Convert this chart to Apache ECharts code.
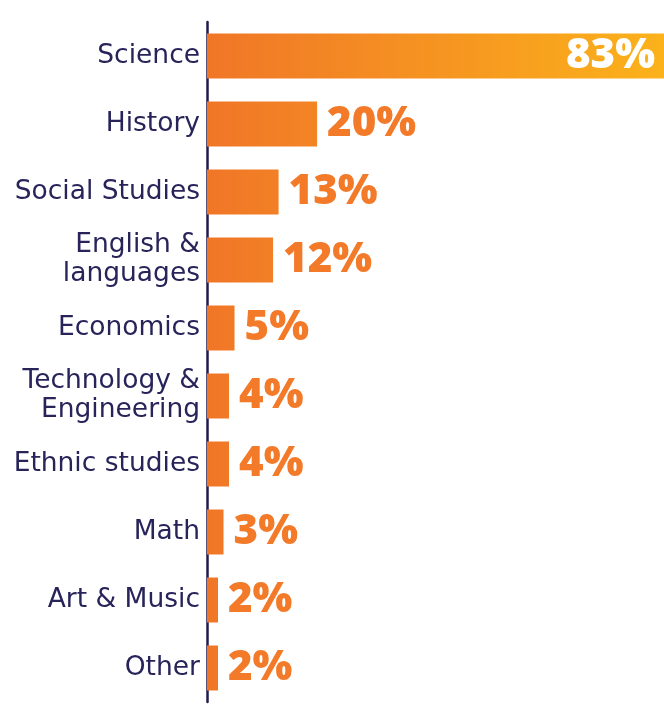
<!DOCTYPE html>
<html>
<head>
<meta charset="utf-8">
<script src="https://cdn.jsdelivr.net/npm/echarts@6/dist/echarts.min.js"></script>
<style>
  html, body { margin: 0; padding: 0; background: #fff; }
  #chart { width: 664px; height: 706px; }
</style>
</head>
<body>
<div id="chart"></div>
<script>
var categories = [
  "Science",
  "History",
  "Social Studies",
  "English &\nlanguages",
  "Economics",
  "Technology &\nEngineering",
  "Ethnic studies",
  "Math",
  "Art & Music",
  "Other"
];
var values = [83, 20, 13, 12, 5, 4, 4, 3, 2, 2];

var myChart = echarts.init(document.getElementById("chart"));

var barGradient = new echarts.graphic.LinearGradient(
  207, 0, 664, 0,
  [
    { offset: 0, color: "#f07627" },
    { offset: 1, color: "#fbb21b" }
  ],
  true
);

myChart.setOption({
  animation: false,
  grid: {
    left: 207,
    right: 0,
    top: 22,
    height: 680
  },
  xAxis: {
    type: "value",
    min: 0,
    max: 83,
    show: false
  },
  yAxis: {
    type: "category",
    inverse: true,
    data: categories,
    axisTick: { show: false },
    axisLine: {
      show: true,
      lineStyle: { color: "#1f1b50", width: 2.5 }
    },
    axisLabel: {
      color: "#28245a",
      fontFamily: "DejaVu Sans",
      fontSize: 26.5,
      lineHeight: 29,
      margin: 7,
      align: "right"
    }
  },
  series: [
    {
      type: "bar",
      data: values.map(function (v, i) {
        var item = { value: v };
        if (i === 0) {
          item.label = {
            position: "insideRight",
            color: "#ffffff",
            distance: 9
          };
        }
        return item;
      }),
      barWidth: 45,
      itemStyle: { color: barGradient },
      label: {
        show: true,
        position: "right",
        distance: 10,
        formatter: "{c}%",
        color: "#f27a28",
        fontFamily: "Open Sans",
        fontWeight: 800,
        fontSize: 42
      }
    }
  ]
});
</script>
</body>
</html>
